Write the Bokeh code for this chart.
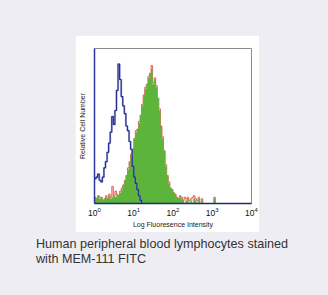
import numpy as np
from bokeh.plotting import figure
from bokeh.layouts import column
from bokeh.models import FixedTicker, Range1d, Div
from bokeh.embed import file_html
from bokeh.resources import INLINE

# Histogram bins in log10 fluorescence, 0.04 decade wide, starting at 10^0
BIN = 0.04

# Isotype control (blue outline)
control_counts = [
    0.16, 0.17, 0.19, 0.15, 0.14, 0.17, 0.23, 0.27, 0.33, 0.39,
    0.46, 0.56, 0.51, 0.60, 0.73, 0.90, 0.80, 0.69, 0.63, 0.58,
    0.50, 0.47, 0.40, 0.35, 0.24, 0.17, 0.13, 0.09, 0.05, 0.02,
    0.00,
]

# MEM-111 FITC stained sample (green fill)
stained_counts = [
    0.04, 0.03, 0.05, 0.03, 0.04, 0.02, 0.03, 0.04, 0.03, 0.05,
    0.03, 0.04, 0.05, 0.04, 0.06, 0.05, 0.07, 0.09, 0.12, 0.15,
    0.18, 0.22, 0.27, 0.31, 0.35, 0.42, 0.46, 0.48, 0.52, 0.57,
    0.63, 0.70, 0.74, 0.77, 0.81, 0.84, 0.87, 0.77, 0.80, 0.75,
    0.68, 0.60, 0.50, 0.42, 0.34, 0.24, 0.18, 0.13, 0.10, 0.09,
    0.07, 0.06, 0.04, 0.03, 0.05, 0.03, 0.02, 0.00, 0.02, 0.03,
    0.00, 0.02, 0.00, 0.03, 0.02, 0.00, 0.03, 0.00, 0.02, 0.00,
    0.00, 0.00, 0.00, 0.00, 0.00, 0.00, 0.03, 0.00,
]

# Second acquisition of the stained sample (red outline)
repeat_counts = [
    0.04, 0.03, 0.05, 0.04, 0.04, 0.02, 0.03, 0.05, 0.03, 0.06,
    0.04, 0.11, 0.05, 0.08, 0.06, 0.05, 0.08, 0.10, 0.12, 0.15,
    0.18, 0.23, 0.27, 0.32, 0.35, 0.42, 0.47, 0.48, 0.53, 0.57,
    0.64, 0.70, 0.75, 0.77, 0.82, 0.84, 0.89, 0.78, 0.81, 0.76,
    0.68, 0.61, 0.50, 0.43, 0.34, 0.25, 0.18, 0.14, 0.10, 0.09,
    0.07, 0.06, 0.04, 0.03, 0.05, 0.04, 0.02, 0.04, 0.03, 0.04,
    0.02, 0.03, 0.04, 0.05, 0.03, 0.02, 0.04, 0.00, 0.03, 0.00,
    0.00, 0.00, 0.00, 0.00, 0.00, 0.00, 0.04, 0.00,
]

x_ticks = [1, 10, 100, 1000, 10000]
x_label = "Log Fluoresence Intensity"
y_label = "Relative Cell Number"
caption_lines = ["Human peripheral blood lymphocytes stained", "with MEM-111 FITC"]

PAGE_BG = "#efedf4"
NAVY = "#1f2a7a"
FONT = "Liberation Sans"


def step_xy(counts):
    lo = np.arange(len(counts) + 1) * BIN
    xs = 10 ** lo
    ys = np.append(counts, counts[-1])
    return xs, ys


# white card holding the histogram
p = figure(
    width=184, height=197,
    x_axis_type="log", x_range=Range1d(1, 1e4), y_range=Range1d(0, 1.0),
    output_backend="svg", toolbar_location=None,
    min_border_left=18, min_border_right=8, min_border_top=13, min_border_bottom=29,
    border_fill_color="white", background_fill_color="white",
    outline_line_color="#8c8c8c", outline_line_width=1,
)
p.margin = (35, 69, 0, 75)
p.grid.visible = False

# red acquisition underneath
rx, ry = step_xy(repeat_counts)
p.varea_step(x=rx, y1=0, y2=ry, step_mode="after", fill_color="#f3a7a1", fill_alpha=0.55)
p.step(rx, ry, mode="after", line_color="#e0342c", line_width=0.9, line_alpha=0.8)

# green filled histogram
gx, gy = step_xy(stained_counts)
p.varea_step(x=gx, y1=0, y2=gy, step_mode="after", fill_color="#5cb43a")

# blue control outline
bx, by = step_xy(control_counts)
p.step(bx, by, mode="after", line_color="#7c84d0", line_width=2.2, line_alpha=0.5)
p.step(bx, by, mode="after", line_color="#26308f", line_width=1.2)

xa = p.xaxis[0]
xa.ticker = FixedTicker(ticks=x_ticks)
xa.axis_label = x_label
xa.axis_label_text_font = FONT
xa.axis_label_text_font_size = "7px"
xa.axis_label_text_font_style = "normal"
xa.axis_label_text_color = "#222222"
xa.axis_label_standoff = 2
xa.major_label_text_font = FONT
xa.major_label_text_font_size = "8.5px"
xa.major_label_text_color = "#111111"
xa.major_label_standoff = 3
xa.major_tick_in = 0
xa.major_tick_out = 0
xa.minor_tick_in = 0
xa.minor_tick_out = 0
xa.axis_line_color = NAVY
xa.axis_line_width = 1.5

ya = p.yaxis[0]
ya.ticker = FixedTicker(ticks=[])
ya.axis_label = y_label
ya.axis_label_text_font = FONT
ya.axis_label_text_font_size = "7px"
ya.axis_label_text_font_style = "normal"
ya.axis_label_text_color = "#222222"
ya.axis_label_standoff = 9
ya.major_label_text_font_size = "0px"
ya.major_label_standoff = 0
ya.major_tick_in = 0
ya.major_tick_out = 0
ya.minor_tick_in = 0
ya.minor_tick_out = 0
ya.axis_line_color = "#2b36a0"
ya.axis_line_width = 1.5

# caption under the card
caption = Div(
    text="<br>".join(caption_lines),
    width=292, height=58, margin=(5, 0, 0, 36),
    styles={
        "font-family": FONT, "font-size": "12.6px", "line-height": "15px",
        "color": "#333333", "white-space": "nowrap",
    },
)

layout = column(p, caption, width=328, height=295, spacing=0,
                styles={"background-color": PAGE_BG})

open("out.html", "w").write(file_html(layout, INLINE))
